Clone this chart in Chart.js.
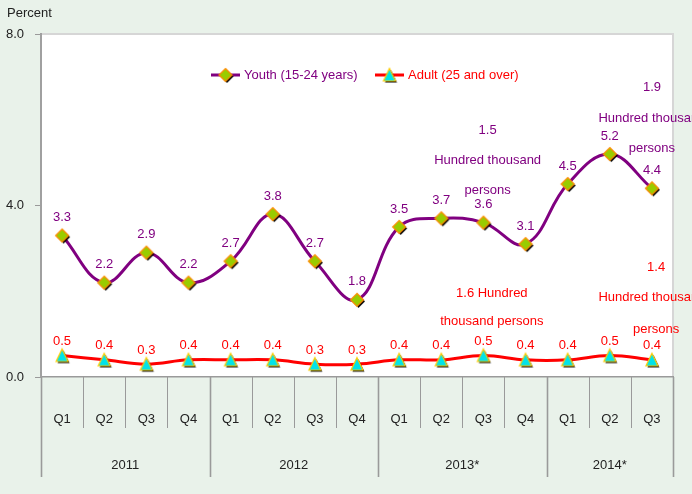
<!DOCTYPE html>
<html>
<head>
<meta charset="utf-8">
<script src="https://cdn.jsdelivr.net/npm/chart.js@4"></script>
<style>
  body { margin: 0; background: #e9f2ea; }
  canvas { display: block; }
</style>
</head>
<body>
<canvas id="chartTrend" width="692" height="494"></canvas>
<script>
// chart data
const quarters = ["Q1", "Q2", "Q3", "Q4", "Q1", "Q2", "Q3", "Q4", "Q1", "Q2", "Q3", "Q4", "Q1", "Q2", "Q3"];
const years = ["2011", "2012", "2013*", "2014*"];
const yearSpan = [4, 4, 4, 3];
const youth = [3.3, 2.2, 2.9, 2.2, 2.7, 3.8, 2.7, 1.8, 3.5, 3.7, 3.6, 3.1, 4.5, 5.2, 4.4];
const adult = [0.5, 0.4, 0.3, 0.4, 0.4, 0.4, 0.3, 0.3, 0.4, 0.4, 0.5, 0.4, 0.4, 0.5, 0.4];
const yMax = 8;
const yStep = 4;

const PURPLE = "#800080";
const RED = "#ff0000";
const FONT = "'Liberation Sans', Arial, sans-serif";

// free text notes (anchored on category index / value)
const notes = [
    { text: "1.5", i: 10.1, v: 5.75, color: PURPLE },
    { text: "Hundred thousand", i: 10.1, v: 5.05, color: PURPLE },
    { text: "persons", i: 10.1, v: 4.35, color: PURPLE },
    { text: "1.9", i: 14.0, v: 6.75, color: PURPLE },
    { text: "Hundred thousand", i: 14.0, v: 6.02, color: PURPLE },
    { text: "persons", i: 14.0, v: 5.32, color: PURPLE },
    { text: "1.6 Hundred", i: 10.2, v: 1.96, color: RED },
    { text: "thousand persons", i: 10.2, v: 1.29, color: RED },
    { text: "1.4", i: 14.1, v: 2.55, color: RED },
    { text: "Hundred thousand", i: 14.0, v: 1.85, color: RED },
    { text: "persons", i: 14.1, v: 1.12, color: RED }
];

// marker pictures with a small black drop shadow
function makeMarker(kind) {
    const c = document.createElement("canvas");
    c.width = 20; c.height = 20;
    const g = c.getContext("2d");
    function shape(dx, dy) {
        g.beginPath();
        if (kind === "diamond") {
            g.moveTo(10 + dx, 3.5 + dy);
            g.lineTo(16.5 + dx, 10 + dy);
            g.lineTo(10 + dx, 16.5 + dy);
            g.lineTo(3.5 + dx, 10 + dy);
        } else {
            g.moveTo(10 + dx, 3.5 + dy);
            g.lineTo(16 + dx, 16 + dy);
            g.lineTo(4 + dx, 16 + dy);
        }
        g.closePath();
    }
    shape(1.5, 1.5);
    g.fillStyle = "#000";
    g.fill();
    shape(0, 0);
    g.fillStyle = kind === "diamond" ? "#99cc00" : "#00e3ea";
    g.fill();
    g.lineWidth = 1.2;
    g.strokeStyle = kind === "diamond" ? "#ff8c00" : "#ffcc00";
    g.stroke();
    return c;
}
const diamond = makeMarker("diamond");
const triangle = makeMarker("triangle");

const chartPlugin = {
    id: "decor",
    beforeDraw(chart) {
        const { ctx, chartArea: a } = chart;
        ctx.save();
        ctx.fillStyle = "#e9f2ea";
        ctx.fillRect(0, 0, chart.width, chart.height);
        ctx.fillStyle = "#ffffff";
        ctx.fillRect(a.left, a.top, a.right - a.left, a.bottom - a.top);
        // plot border top / right
        ctx.strokeStyle = "#d6d6d6";
        ctx.lineWidth = 2;
        ctx.beginPath();
        ctx.moveTo(a.left, a.top);
        ctx.lineTo(a.right, a.top);
        ctx.lineTo(a.right, a.bottom);
        ctx.stroke();
        ctx.fillStyle = "#222";
        ctx.font = "13px " + FONT;
        ctx.textBaseline = "middle";
        ctx.textAlign = "left";
        ctx.fillText("Percent", 7, 13);
        ctx.restore();
    },
    afterDraw(chart) {
        const { ctx, chartArea: a } = chart;
        const xs = chart.scales.x;
        const ys = chart.scales.y;
        const n = quarters.length;
        const w = (a.right - a.left) / n;
        ctx.save();

        // category dividers, long ones between years
        const yearEdges = [0];
        yearSpan.forEach(s => yearEdges.push(yearEdges[yearEdges.length - 1] + s));
        ctx.strokeStyle = "#9a9a9a";
        for (let i = 0; i <= n; i++) {
            const x = Math.round(a.left + i * w) + 0.5;
            const long = yearEdges.includes(i);
            ctx.lineWidth = long ? 1.6 : 1;
            ctx.beginPath();
            ctx.moveTo(x, a.bottom);
            ctx.lineTo(x, a.bottom + (long ? 100 : 51));
            ctx.stroke();
        }

        // year labels
        ctx.fillStyle = "#222";
        ctx.font = "13px " + FONT;
        ctx.textAlign = "center";
        ctx.textBaseline = "middle";
        years.forEach((yr, k) => {
            const x0 = a.left + yearEdges[k] * w;
            const x1 = a.left + yearEdges[k + 1] * w;
            ctx.fillText(yr, (x0 + x1) / 2, a.bottom + 88);
        });

        // value labels
        const offs = [18, 14];
        chart.data.datasets.forEach((ds, di) => {
            const meta = chart.getDatasetMeta(di);
            ctx.fillStyle = ds.borderColor;
            meta.data.forEach((pt, j) => {
                ctx.fillText(ds.data[j].toFixed(1), pt.x, pt.y - offs[di]);
            });
        });

        // text notes
        notes.forEach(nt => {
            ctx.fillStyle = nt.color;
            ctx.fillText(nt.text, xs.getPixelForValue(nt.i), ys.getPixelForValue(nt.v));
        });

        // legend
        const items = [
            { label: "Youth (15-24 years)", color: PURPLE, img: diamond, x: 211 },
            { label: "Adult (25 and over)", color: RED, img: triangle, x: 375 }
        ];
        const ly = 75;
        ctx.textAlign = "left";
        items.forEach(it => {
            ctx.strokeStyle = it.color;
            ctx.lineWidth = 3;
            ctx.beginPath();
            ctx.moveTo(it.x, ly);
            ctx.lineTo(it.x + 29, ly);
            ctx.stroke();
            ctx.drawImage(it.img, it.x + 14.5 - 10, ly - 10);
            ctx.fillStyle = it.color;
            ctx.fillText(it.label, it.x + 33, ly);
        });
        ctx.restore();
    }
};

const chartCtx = document.getElementById("chartTrend").getContext("2d");

const chart = new Chart(chartCtx, {
    type: "line",
    data: {
        labels: quarters,
        datasets: [
            {
                label: "Youth (15-24 years)",
                data: youth,
                borderColor: PURPLE,
                borderWidth: 3,
                tension: 0.4,
                pointStyle: diamond,
                pointRadius: 7
            },
            {
                label: "Adult (25 and over)",
                data: adult,
                borderColor: RED,
                borderWidth: 3,
                tension: 0.4,
                pointStyle: triangle,
                pointRadius: 7
            }
        ]
    },
    options: {
        responsive: false,
        animation: false,
        layout: { padding: { top: 34, right: 19, left: 0, bottom: 0 } },
        plugins: {
            legend: { display: false },
            tooltip: { enabled: false }
        },
        scales: {
            x: {
                offset: true,
                grid: { display: false, offset: true },
                border: { display: true, color: "#9a9a9a", width: 1.5 },
                ticks: {
                    color: "#222",
                    font: { family: FONT, size: 13 },
                    padding: 27,
                    maxRotation: 0,
                    autoSkip: false
                },
                afterFit(scale) { scale.height = 117; }
            },
            y: {
                min: 0,
                max: yMax,
                grid: { drawOnChartArea: false, tickLength: 6, color: "#9a9a9a" },
                border: { color: "#a0a0a0", width: 2 },
                ticks: {
                    stepSize: yStep,
                    color: "#222",
                    font: { family: FONT, size: 13 },
                    padding: 11,
                    callback: v => v.toFixed(1)
                },
                afterFit(scale) { scale.width = 41; }
            }
        }
    },
    plugins: [chartPlugin]
});
</script>
</body>
</html>
